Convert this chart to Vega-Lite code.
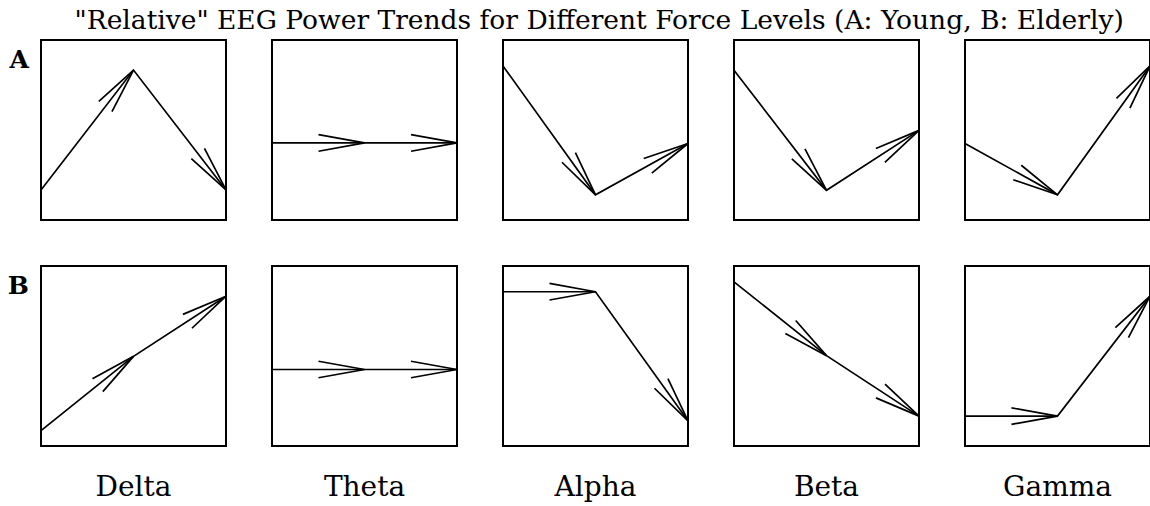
{
  "$schema": "https://vega.github.io/schema/vega-lite/v6.json",
  "background": "white",
  "padding": {"left": 7, "top": 7, "right": 0, "bottom": 0},
  "bounds": "flush",
  "title": {
    "text": "\"Relative\" EEG Power Trends for Different Force Levels (A: Young, B: Elderly)",
    "font": "DejaVu Serif",
    "fontSize": 26.5,
    "fontWeight": "normal",
    "color": "black",
    "anchor": "middle",
    "dx": 18,
    "offset": 5
  },
  "data": {
    "values": [
      {"group": "A", "band": "Delta", "x": 0, "y": 16.7},
      {"group": "A", "band": "Delta", "x": 1, "y": 83.3},
      {"group": "A", "band": "Delta", "x": 2, "y": 16.7},
      {"group": "A", "band": "Theta", "x": 0, "y": 42.8},
      {"group": "A", "band": "Theta", "x": 1, "y": 42.8},
      {"group": "A", "band": "Theta", "x": 2, "y": 42.8},
      {"group": "A", "band": "Alpha", "x": 0, "y": 85.6},
      {"group": "A", "band": "Alpha", "x": 1, "y": 14.0},
      {"group": "A", "band": "Alpha", "x": 2, "y": 42.5},
      {"group": "A", "band": "Beta", "x": 0, "y": 83.2},
      {"group": "A", "band": "Beta", "x": 1, "y": 16.5},
      {"group": "A", "band": "Beta", "x": 2, "y": 49.8},
      {"group": "A", "band": "Gamma", "x": 0, "y": 42.5},
      {"group": "A", "band": "Gamma", "x": 1, "y": 14.0},
      {"group": "A", "band": "Gamma", "x": 2, "y": 85.6},
      {"group": "B", "band": "Delta", "x": 0, "y": 8.5},
      {"group": "B", "band": "Delta", "x": 1, "y": 49.8},
      {"group": "B", "band": "Delta", "x": 2, "y": 83.2},
      {"group": "B", "band": "Theta", "x": 0, "y": 42.5},
      {"group": "B", "band": "Theta", "x": 1, "y": 42.5},
      {"group": "B", "band": "Theta", "x": 2, "y": 42.5},
      {"group": "B", "band": "Alpha", "x": 0, "y": 85.7},
      {"group": "B", "band": "Alpha", "x": 1, "y": 85.7},
      {"group": "B", "band": "Alpha", "x": 2, "y": 14.0},
      {"group": "B", "band": "Beta", "x": 0, "y": 91.2},
      {"group": "B", "band": "Beta", "x": 1, "y": 50.2},
      {"group": "B", "band": "Beta", "x": 2, "y": 16.6},
      {"group": "B", "band": "Gamma", "x": 0, "y": 16.6},
      {"group": "B", "band": "Gamma", "x": 1, "y": 16.6},
      {"group": "B", "band": "Gamma", "x": 2, "y": 83.2}
    ]
  },
  "facet": {
    "row": {
      "field": "group",
      "type": "nominal",
      "header": {
        "title": null,
        "labelAngle": 0,
        "labelOrient": "left",
        "labelFont": "DejaVu Serif",
        "labelFontSize": 25,
        "labelFontWeight": "bold",
        "labelColor": "black",
        "labelAnchor": "end",
        "labelBaseline": "line-top",
        "labelLineHeight": 41,
        "labelAlign": "left",
        "labelPadding": 12
      }
    },
    "column": {
      "field": "band",
      "type": "nominal",
      "sort": ["Delta", "Theta", "Alpha", "Beta", "Gamma"],
      "header": {
        "title": null,
        "labelOrient": "bottom",
        "labelFont": "DejaVu Serif",
        "labelFontSize": 28,
        "labelColor": "black",
        "labelPadding": 28
      }
    }
  },
  "spacing": {"row": 46, "column": 46},
  "spec": {
    "width": 185,
    "height": 180,
    "layer": [
      {
        "mark": {"type": "line", "color": "black", "strokeWidth": 1.7},
        "encoding": {
          "x": {"field": "x", "type": "quantitative", "scale": {"domain": [0, 2], "nice": false, "zero": false}, "axis": null},
          "y": {"field": "y", "type": "quantitative", "scale": {"domain": [0, 100], "nice": false}, "axis": null},
          "order": {"field": "x"}
        }
      },
      {
        "transform": [
          {
            "window": [
              {"op": "lag", "field": "x", "as": "px"},
              {"op": "lag", "field": "y", "as": "py"}
            ],
            "groupby": ["group", "band"],
            "sort": [{"field": "x", "order": "ascending"}]
          },
          {"filter": "datum.px != null"},
          {"calculate": "atan2(-(datum.y - datum.py) * 1.8, (datum.x - datum.px) * 92.5) * 180 / PI", "as": "ang"}
        ],
        "mark": {
          "type": "point",
          "shape": "M-1,-0.18L0,0L-1,0.18",
          "filled": false,
          "stroke": "black",
          "strokeWidth": 1.7,
          "opacity": 1,
          "size": 8464
        },
        "encoding": {
          "x": {"field": "x", "type": "quantitative"},
          "y": {"field": "y", "type": "quantitative"},
          "angle": {"field": "ang", "type": "quantitative", "scale": null}
        }
      }
    ]
  },
  "config": {
    "view": {"stroke": "black", "strokeWidth": 2}
  }
}
